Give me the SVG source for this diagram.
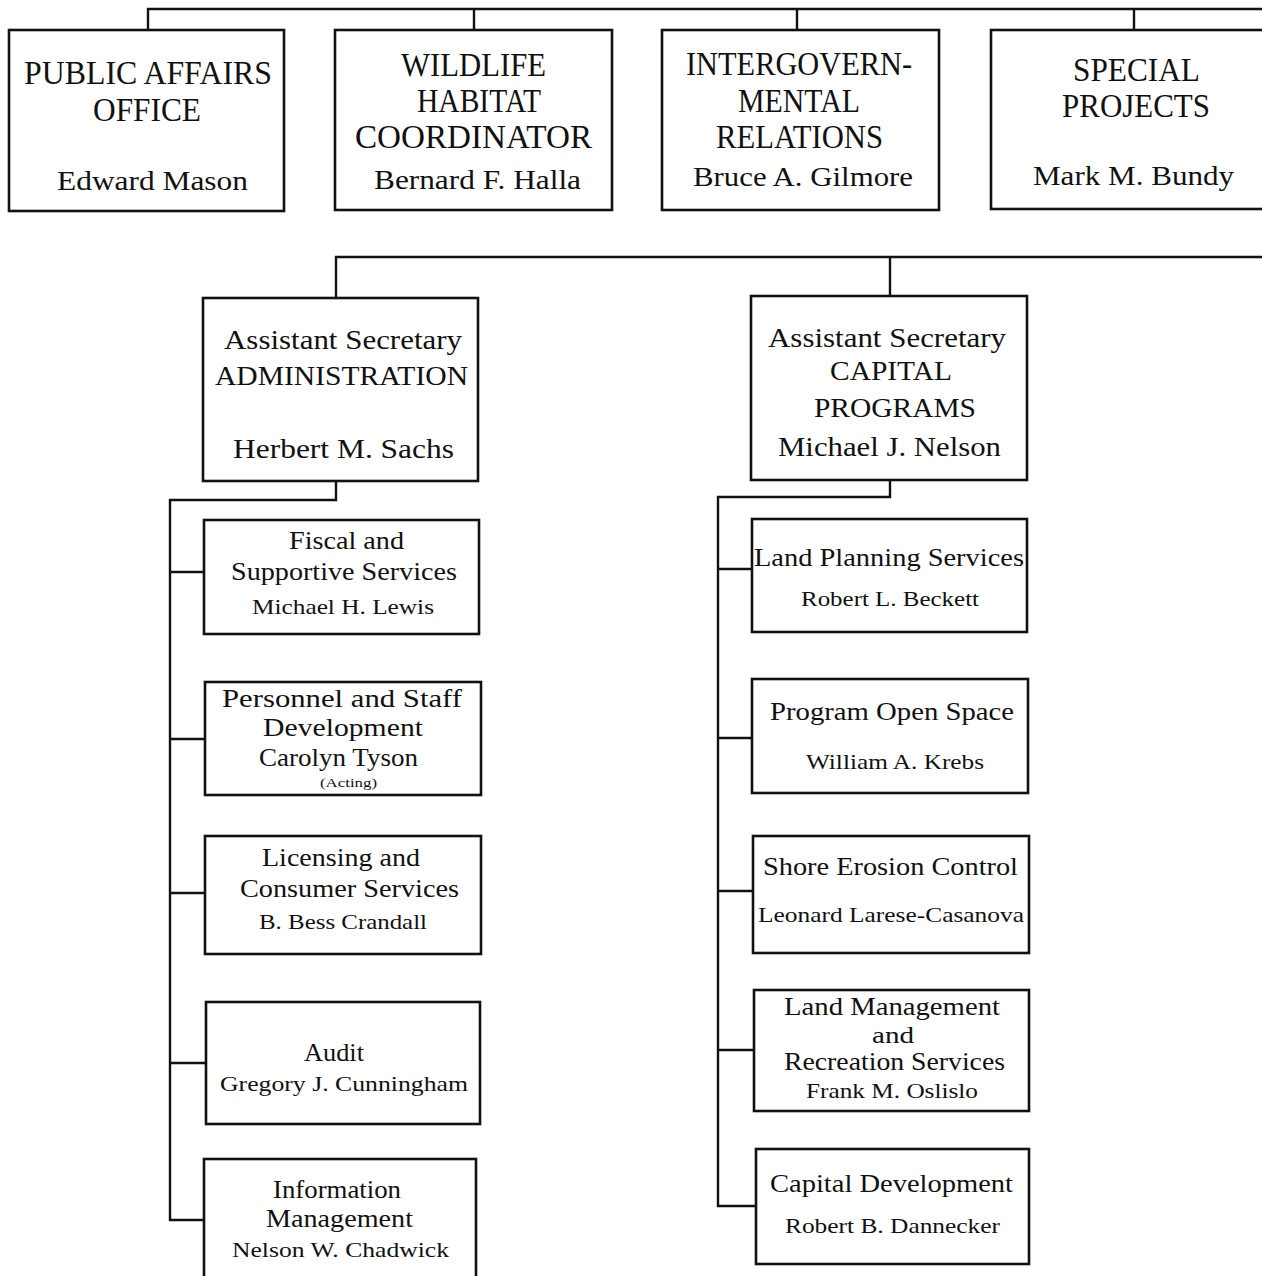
<svg xmlns="http://www.w3.org/2000/svg" width="1262" height="1276" viewBox="0 0 1262 1276">
<style>
.box{fill:#fff;stroke:#111;stroke-width:2.6}
.ln{fill:none;stroke:#111;stroke-width:2.4}
text{font-family:"Liberation Serif","Times New Roman",serif;fill:#111}
.t1{font-size:33px}
.n1{font-size:28px}
.t2{font-size:25px}
.n2{font-size:21px}
.s{font-size:13px}
</style>
<rect width="1262" height="1276" fill="#fff"/>
<g id="connectors">
<path class="ln" d="M148 30V9H1262M474 9V30M797 9V30M1134 9V30"/>
<path class="ln" d="M336 298V257H1262M890 257V296"/>
<path class="ln" d="M336 481V500H170V1220H204M170 572H204M170 739H205M170 893H205M170 1063H206"/>
<path class="ln" d="M890 480V497H718V1206H756M718 569H752M718 738H752M718 891H753M718 1050H754"/>
</g>
<g id="public-affairs">
<rect class="box" x="9" y="30" width="275" height="181"/>
<text class="t1" x="24" y="84" textLength="248" lengthAdjust="spacingAndGlyphs">PUBLIC AFFAIRS</text>
<text class="t1" x="93" y="121" textLength="108" lengthAdjust="spacingAndGlyphs">OFFICE</text>
<text class="n1" x="57" y="190" textLength="191" lengthAdjust="spacingAndGlyphs">Edward Mason</text>
</g>
<g id="wildlife">
<rect class="box" x="335" y="30" width="277" height="180"/>
<text class="t1" x="401" y="76" textLength="145" lengthAdjust="spacingAndGlyphs">WILDLIFE</text>
<text class="t1" x="417" y="112" textLength="124" lengthAdjust="spacingAndGlyphs">HABITAT</text>
<text class="t1" x="355" y="148" textLength="237" lengthAdjust="spacingAndGlyphs">COORDINATOR</text>
<text class="n1" x="374" y="189" textLength="207" lengthAdjust="spacingAndGlyphs">Bernard F. Halla</text>
</g>
<g id="intergovernmental">
<rect class="box" x="662" y="30" width="277" height="180"/>
<text class="t1" x="686" y="75" textLength="226" lengthAdjust="spacingAndGlyphs">INTERGOVERN-</text>
<text class="t1" x="738" y="112" textLength="122" lengthAdjust="spacingAndGlyphs">MENTAL</text>
<text class="t1" x="716" y="148" textLength="167" lengthAdjust="spacingAndGlyphs">RELATIONS</text>
<text class="n1" x="693" y="186" textLength="220" lengthAdjust="spacingAndGlyphs">Bruce A. Gilmore</text>
</g>
<g id="special-projects">
<rect class="box" x="991" y="30" width="280" height="179"/>
<text class="t1" x="1073" y="81" textLength="127" lengthAdjust="spacingAndGlyphs">SPECIAL</text>
<text class="t1" x="1062" y="117" textLength="148" lengthAdjust="spacingAndGlyphs">PROJECTS</text>
<text class="n1" x="1033" y="185" textLength="201" lengthAdjust="spacingAndGlyphs">Mark M. Bundy</text>
</g>
<g id="asst-admin">
<rect class="box" x="203" y="298" width="275" height="183"/>
<text class="n1" x="224" y="349" textLength="238" lengthAdjust="spacingAndGlyphs">Assistant Secretary</text>
<text class="n1" x="215" y="385" textLength="253" lengthAdjust="spacingAndGlyphs">ADMINISTRATION</text>
<text class="n1" x="233" y="458" textLength="221" lengthAdjust="spacingAndGlyphs">Herbert M. Sachs</text>
</g>
<g id="asst-capital">
<rect class="box" x="751" y="296" width="276" height="184"/>
<text class="n1" x="768" y="347" textLength="238" lengthAdjust="spacingAndGlyphs">Assistant Secretary</text>
<text class="n1" x="830" y="380" textLength="122" lengthAdjust="spacingAndGlyphs">CAPITAL</text>
<text class="n1" x="814" y="417" textLength="162" lengthAdjust="spacingAndGlyphs">PROGRAMS</text>
<text class="n1" x="778" y="456" textLength="223" lengthAdjust="spacingAndGlyphs">Michael J. Nelson</text>
</g>
<g id="fiscal">
<rect class="box" x="204" y="520" width="275" height="114"/>
<text class="t2" x="289" y="549" textLength="115" lengthAdjust="spacingAndGlyphs">Fiscal and</text>
<text class="t2" x="231" y="580" textLength="226" lengthAdjust="spacingAndGlyphs">Supportive Services</text>
<text class="n2" x="252" y="614" textLength="182" lengthAdjust="spacingAndGlyphs">Michael H. Lewis</text>
</g>
<g id="personnel">
<rect class="box" x="205" y="682" width="276" height="113"/>
<text class="t2" x="222" y="707" textLength="240" lengthAdjust="spacingAndGlyphs">Personnel and Staff</text>
<text class="t2" x="263" y="736" textLength="160" lengthAdjust="spacingAndGlyphs">Development</text>
<text class="t2" x="259" y="766" textLength="159" lengthAdjust="spacingAndGlyphs">Carolyn Tyson</text>
<text class="s" x="320" y="787" textLength="57" lengthAdjust="spacingAndGlyphs">(Acting)</text>
</g>
<g id="licensing">
<rect class="box" x="205" y="836" width="276" height="118"/>
<text class="t2" x="262" y="866" textLength="158" lengthAdjust="spacingAndGlyphs">Licensing and</text>
<text class="t2" x="240" y="897" textLength="219" lengthAdjust="spacingAndGlyphs">Consumer Services</text>
<text class="n2" x="259" y="929" textLength="168" lengthAdjust="spacingAndGlyphs">B. Bess Crandall</text>
</g>
<g id="audit">
<rect class="box" x="206" y="1002" width="274" height="122"/>
<text class="t2" x="304" y="1061" textLength="60" lengthAdjust="spacingAndGlyphs">Audit</text>
<text class="n2" x="220" y="1091" textLength="248" lengthAdjust="spacingAndGlyphs">Gregory J. Cunningham</text>
</g>
<g id="information">
<rect class="box" x="204" y="1159" width="272" height="130"/>
<text class="t2" x="273" y="1198" textLength="128" lengthAdjust="spacingAndGlyphs">Information</text>
<text class="t2" x="266" y="1227" textLength="147" lengthAdjust="spacingAndGlyphs">Management</text>
<text class="n2" x="232" y="1257" textLength="217" lengthAdjust="spacingAndGlyphs">Nelson W. Chadwick</text>
</g>
<g id="land-planning">
<rect class="box" x="752" y="519" width="275" height="113"/>
<text class="t2" x="754" y="566" textLength="270" lengthAdjust="spacingAndGlyphs">Land Planning Services</text>
<text class="n2" x="801" y="606" textLength="178" lengthAdjust="spacingAndGlyphs">Robert L. Beckett</text>
</g>
<g id="program-open-space">
<rect class="box" x="752" y="679" width="276" height="114"/>
<text class="t2" x="770" y="720" textLength="244" lengthAdjust="spacingAndGlyphs">Program Open Space</text>
<text class="n2" x="806" y="769" textLength="178" lengthAdjust="spacingAndGlyphs">William A. Krebs</text>
</g>
<g id="shore-erosion">
<rect class="box" x="753" y="836" width="276" height="117"/>
<text class="t2" x="763" y="875" textLength="255" lengthAdjust="spacingAndGlyphs">Shore Erosion Control</text>
<text class="n2" x="758" y="922" textLength="266" lengthAdjust="spacingAndGlyphs">Leonard Larese-Casanova</text>
</g>
<g id="land-management">
<rect class="box" x="754" y="990" width="275" height="121"/>
<text class="t2" x="784" y="1015" textLength="216" lengthAdjust="spacingAndGlyphs">Land Management</text>
<text class="t2" x="872" y="1043" style="font-size:23px" textLength="42" lengthAdjust="spacingAndGlyphs">and</text>
<text class="t2" x="784" y="1070" textLength="221" lengthAdjust="spacingAndGlyphs">Recreation Services</text>
<text class="n2" x="806" y="1098" textLength="172" lengthAdjust="spacingAndGlyphs">Frank M. Oslislo</text>
</g>
<g id="capital-development">
<rect class="box" x="756" y="1149" width="273" height="115"/>
<text class="t2" x="770" y="1192" textLength="243" lengthAdjust="spacingAndGlyphs">Capital Development</text>
<text class="n2" x="785" y="1233" textLength="215" lengthAdjust="spacingAndGlyphs">Robert B. Dannecker</text>
</g>
</svg>
